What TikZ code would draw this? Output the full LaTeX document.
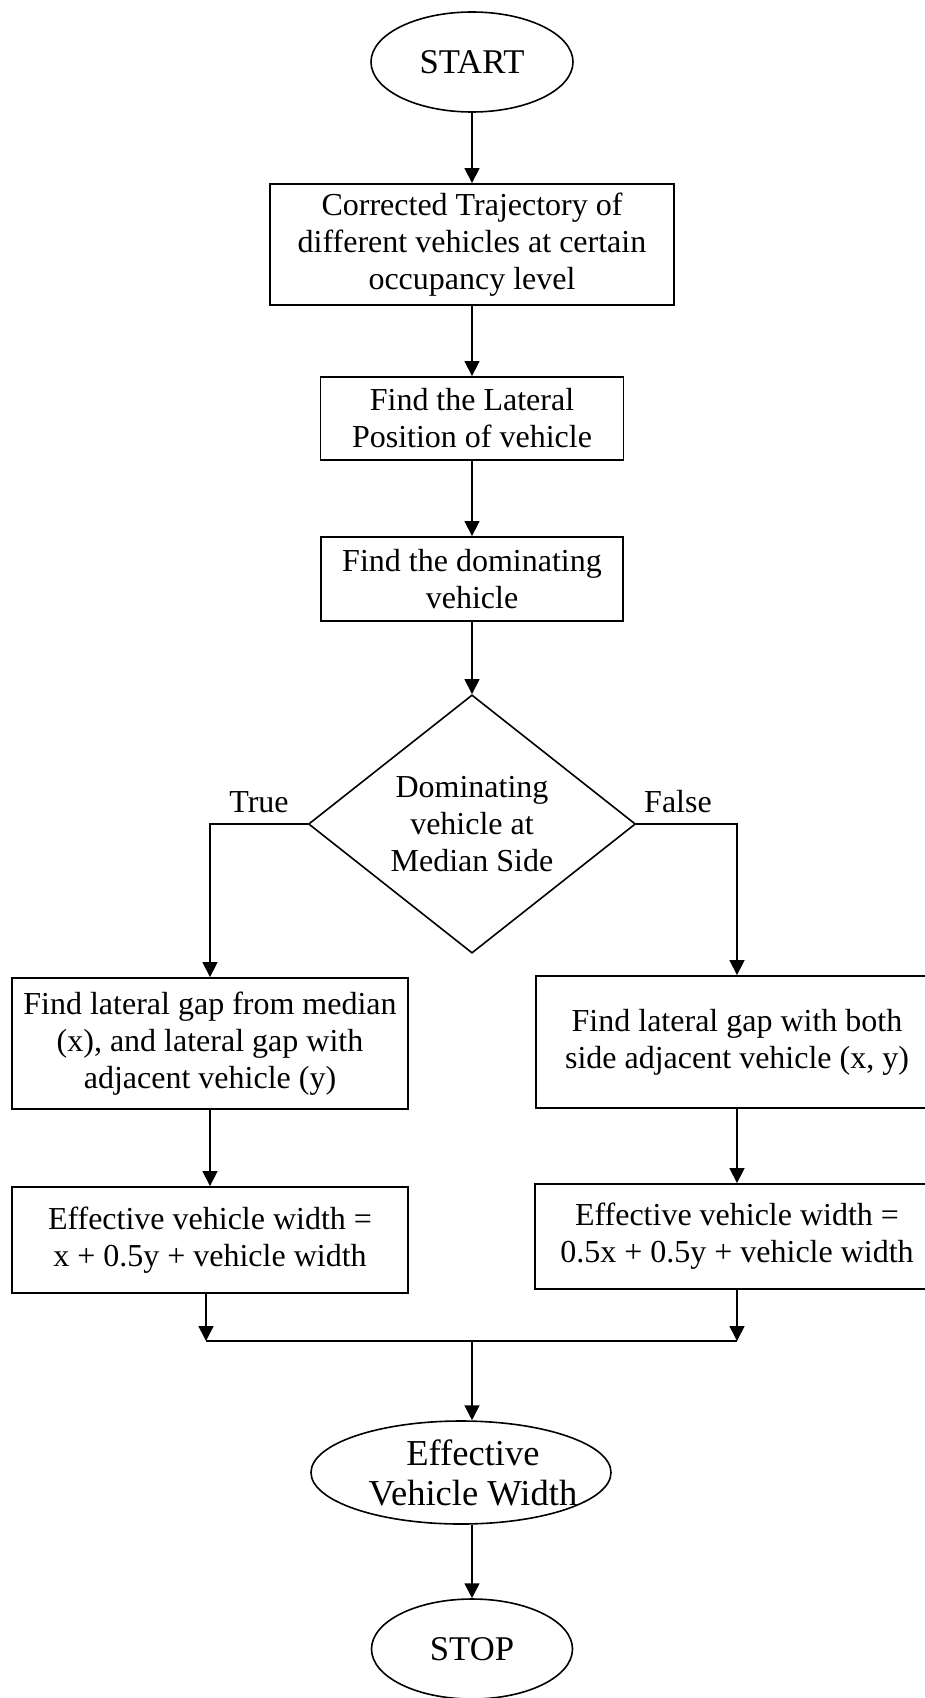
\documentclass[tikz,border=0pt]{standalone}
\usepackage{fontspec}
\setmainfont{Liberation Serif}
\usetikzlibrary{arrows.meta,shapes.geometric}
\newcommand{\px}{0.375pt}
\tikzstyle{term}=[ellipse,draw=black,line width=0.6pt,inner sep=0pt,
  font=\fontsize{13pt}{15pt}\selectfont]
\tikzstyle{proc}=[rectangle,draw=black,line width=0.7pt,inner sep=0pt,
  align=center,font=\fontsize{12pt}{13.9pt}\selectfont]
\tikzstyle{dec}=[diamond,draw=black,line width=0.6pt,inner sep=0pt,
  align=center,font=\fontsize{12pt}{13.9pt}\selectfont]
\tikzstyle{lbl}=[font=\fontsize{12pt}{13.9pt}\selectfont]
\tikzstyle{flow}=[line width=0.6pt,-{Triangle[length=5.6pt,width=5.6pt]}]
\tikzstyle{none}=[]

\begin{document}
\begin{tikzpicture}[x=\px, y=-\px]
            \useasboundingbox (0, 0) rectangle (924, 1698);
            \node [style=term, minimum width=202*\px, minimum height=100*\px] (0) at (472, 62) {START};
            \node [style=proc, minimum width=404*\px, minimum height=121*\px] (1) at (472, 244.5) {Corrected Trajectory of\\different vehicles at certain\\occupancy level};
            \node [style=proc, minimum width=303*\px, minimum height=83*\px] (2) at (472, 418.5) {Find the Lateral\\Position of vehicle};
            \node [style=proc, minimum width=302*\px, minimum height=84*\px] (3) at (472, 579) {Find the dominating\\vehicle};
            \node [style=dec, minimum width=327*\px, minimum height=252*\px] (4) at (472, 824) {Dominating\\vehicle at\\Median Side};
            \node [style=lbl] (5) at (259, 802) {True};
            \node [style=lbl] (6) at (678, 802) {False};
            \node [style=proc, minimum width=396*\px, minimum height=131*\px] (7) at (210, 1043.5) {Find lateral gap from median\\(x), and lateral gap with\\adjacent vehicle (y)};
            \node [style=proc, minimum width=402*\px, minimum height=132*\px] (8) at (737, 1042) {Find lateral gap with both\\side adjacent vehicle (x, y)};
            \node [style=proc, minimum width=396*\px, minimum height=106*\px] (9) at (210, 1240) {Effective vehicle width =\\x + 0.5y + vehicle width};
            \node [style=proc, minimum width=404*\px, minimum height=105*\px] (10) at (737, 1236.5) {Effective vehicle width =\\0.5x + 0.5y + vehicle width};
            \node [style=term, minimum width=300*\px, minimum height=103*\px,
              label={[align=center, xshift=12*\px, font=\fontsize{13.7pt}{15pt}\selectfont]center:{Effective\\Vehicle Width}}] (11) at (461, 1472.5) {};
            \node [style=term, minimum width=201*\px, minimum height=100*\px] (12) at (472, 1649) {STOP};
            \coordinate (13) at (206, 1341);
            \coordinate (14) at (737, 1341);
            \coordinate (15) at (472, 1341);
            \draw [style=flow] (0) to (1);
            \draw [style=flow] (1) to (2);
            \draw [style=flow] (2) to (3);
            \draw [style=flow] (3) to (4);
            \draw [style=flow] (4.west) -| (7.north);
            \draw [style=flow] (4.east) -| (8.north);
            \draw [style=flow] (7) to (9);
            \draw [style=flow] (8) to (10);
            \draw [style=flow] (9.south -| 13) to (13);
            \draw [style=flow] (10.south -| 14) to (14);
            \draw [line width=0.6pt] (13) to (14);
            \draw [style=flow] (15) to (15 |- 11.north);
            \draw [style=flow] (11.south -| 15) to (12);
    \end{tikzpicture}
\end{document}
